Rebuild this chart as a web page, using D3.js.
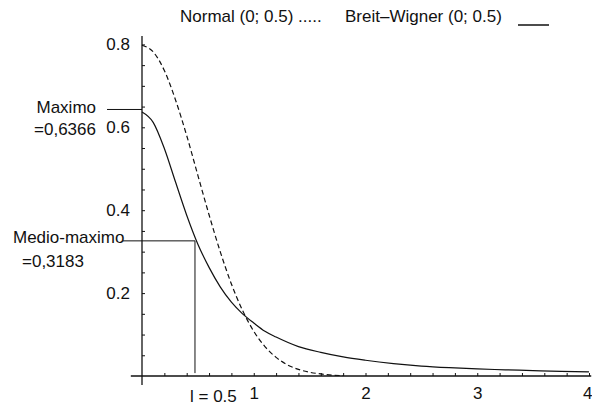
<html>
<script src="https://cdn.jsdelivr.net/npm/d3@7"></script>
<head>
    <style>
        body {
            margin: 0;
            background: white;
            font-family: "Liberation Sans", Arial, Helvetica, sans-serif;
        }
        svg text {
            fill: #111;
        }
    </style>
</head>
<body>
    <svg id="chart"></svg>
    <script>
      // Breit-Wigner (0; 0.5) - solid curve
      let bwX = [0, 0.1, 0.2, 0.3, 0.4, 0.5, 0.6, 0.7, 0.8, 0.9, 1.0, 1.1, 1.2, 1.4, 1.6, 1.8, 2.0, 2.25, 2.5, 2.75, 3.0, 3.25, 3.5, 3.75, 4.0]
      let bwY = [0.637, 0.612, 0.549, 0.468, 0.388, 0.318, 0.262, 0.215, 0.178, 0.150, 0.128, 0.108, 0.094, 0.071, 0.057, 0.046, 0.038, 0.030, 0.024, 0.020, 0.017, 0.015, 0.013, 0.011, 0.010]

      // Normal (0; 0.5) - dashed curve
      let normX = [0, 0.1, 0.2, 0.3, 0.4, 0.5, 0.6, 0.7, 0.8, 0.9, 1.0, 1.1, 1.2, 1.3, 1.4, 1.5, 1.6, 1.7, 1.8]
      let normY = [0.798, 0.782, 0.737, 0.666, 0.580, 0.484, 0.389, 0.300, 0.222, 0.158, 0.108, 0.071, 0.045, 0.027, 0.016, 0.009, 0.005, 0.002, 0.001]

      // ticks
      let xMinorTicks = [0.2, 0.4, 0.6, 0.8, 1.0, 1.2, 1.4, 1.6, 1.8, 2.0, 2.2, 2.4, 2.6, 2.8, 3.0, 3.2, 3.4, 3.6, 3.8, 4.0]
      let xTickLabels = [1, 2, 3, 4]
      let yMinorTicks = [0.05, 0.1, 0.15, 0.2, 0.25, 0.3, 0.35, 0.4, 0.45, 0.5, 0.55, 0.6, 0.65, 0.7, 0.75, 0.8]
      let yTickLabels = [0.2, 0.4, 0.6, 0.8]

      // annotation values
      let maxValue = [0.643]          // "Maximo" line
      let halfMax = [0.474, 0.326]    // x, y of the half-maximum point

      let width = 592
      let height = 407

      let svg = d3.select("#chart")
          .attr("width", width)
          .attr("height", height)

      let xScale = d3.scaleLinear().domain([0, 4]).range([142, 589])
      let yScale = d3.scaleLinear().domain([0, 0.8]).range([376, 44.4])

      // axis lines (extend a bit past the origin like the original)
      svg.append("line")
          .attr("x1", xScale(0)).attr("x2", xScale(0))
          .attr("y1", yScale(0.82)).attr("y2", yScale(-0.022))
          .attr("stroke", "#111").attr("stroke-width", 1.3)
      svg.append("line")
          .attr("x1", xScale(-0.1)).attr("x2", xScale(4.02))
          .attr("y1", yScale(0)).attr("y2", yScale(0))
          .attr("stroke", "#111").attr("stroke-width", 1.3)

      // minor ticks, drawn inward
      let yTickAxis = d3.axisRight(yScale).tickValues(yMinorTicks).tickSize(3).tickFormat("")
      let gy = svg.append("g").attr("transform", `translate(${xScale(0)},0)`).call(yTickAxis)
      gy.select(".domain").remove()

      let xTickAxis = d3.axisTop(xScale).tickValues(xMinorTicks).tickSize(3).tickFormat("")
      let gx = svg.append("g").attr("transform", `translate(0,${yScale(0)})`).call(xTickAxis)
      gx.select(".domain").remove()

      svg.selectAll(".tick line").attr("stroke", "#111")

      // tick labels
      let yLabelAxis = d3.axisLeft(yScale).tickValues(yTickLabels).tickSize(0).tickPadding(12).tickFormat(d3.format(".1f"))
      let gyl = svg.append("g").attr("transform", `translate(${xScale(0)},0)`).call(yLabelAxis)
      gyl.select(".domain").remove()

      let xLabelAxis = d3.axisBottom(xScale).tickValues(xTickLabels).tickSize(0).tickPadding(11).tickFormat(d3.format("d"))
      let gxl = svg.append("g").attr("transform", `translate(0,${yScale(0)})`).call(xLabelAxis)
      gxl.select(".domain").remove()

      svg.selectAll(".tick text")
          .style("font-family", "'Liberation Sans', Arial, sans-serif")
          .style("font-size", "17px")
          .attr("fill", "#111")

      // the last label sits at the window edge: keep it inside
      gxl.selectAll(".tick text").filter(d => d === 4)
          .attr("text-anchor", "end")
          .attr("dx", "3")

      // curves
      let line = d3.line()
          .x(d => xScale(d[0]))
          .y(d => yScale(d[1]))
          .curve(d3.curveMonotoneX)

      svg.append("path")
          .datum(bwX.map((x, i) => [x, bwY[i]]))
          .attr("d", line)
          .attr("fill", "none")
          .attr("stroke", "#111")
          .attr("stroke-width", 1.2)

      svg.append("path")
          .datum(normX.map((x, i) => [x, normY[i]]))
          .attr("d", line)
          .attr("fill", "none")
          .attr("stroke", "#111")
          .attr("stroke-width", 1.2)
          .attr("stroke-dasharray", "5,3")

      // maximum marker
      svg.append("line")
          .attr("x1", xScale(-0.313)).attr("x2", xScale(0))
          .attr("y1", yScale(maxValue[0])).attr("y2", yScale(maxValue[0]))
          .attr("stroke", "#111").attr("stroke-width", 1)

      // half maximum marker
      svg.append("line")
          .attr("x1", xScale(-0.17)).attr("x2", xScale(halfMax[0]))
          .attr("y1", yScale(halfMax[1])).attr("y2", yScale(halfMax[1]))
          .attr("stroke", "#111").attr("stroke-width", 1)
      svg.append("line")
          .attr("x1", xScale(halfMax[0])).attr("x2", xScale(halfMax[0]))
          .attr("y1", yScale(halfMax[1])).attr("y2", yScale(0.007))
          .attr("stroke", "#111").attr("stroke-width", 1)

      // texts
      let texts = [
          { t: "Maximo", x: 96, y: 113, anchor: "end" },
          { t: "=0,6366", x: 96, y: 135, anchor: "end" },
          { t: "Medio-maximo", x: 13, y: 243, anchor: "start" },
          { t: "=0,3183", x: 22, y: 267, anchor: "start" },
          { t: "l = 0.5", x: 190, y: 402, anchor: "start" },
          { t: "Normal (0; 0.5) .....", x: 180, y: 22, anchor: "start" },
          { t: "Breit\u2013Wigner (0; 0.5)", x: 345, y: 22, anchor: "start" }
      ]
      svg.selectAll(".note")
          .data(texts)
          .enter().append("text")
          .attr("class", "note")
          .attr("x", d => d.x)
          .attr("y", d => d.y)
          .attr("text-anchor", d => d.anchor)
          .style("font-size", "17px")
          .text(d => d.t)

      // legend sample line for the solid curve
      svg.append("line")
          .attr("x1", 518).attr("x2", 549)
          .attr("y1", 25).attr("y2", 25)
          .attr("stroke", "#111").attr("stroke-width", 1.5)
    </script>
</body>
</html>
